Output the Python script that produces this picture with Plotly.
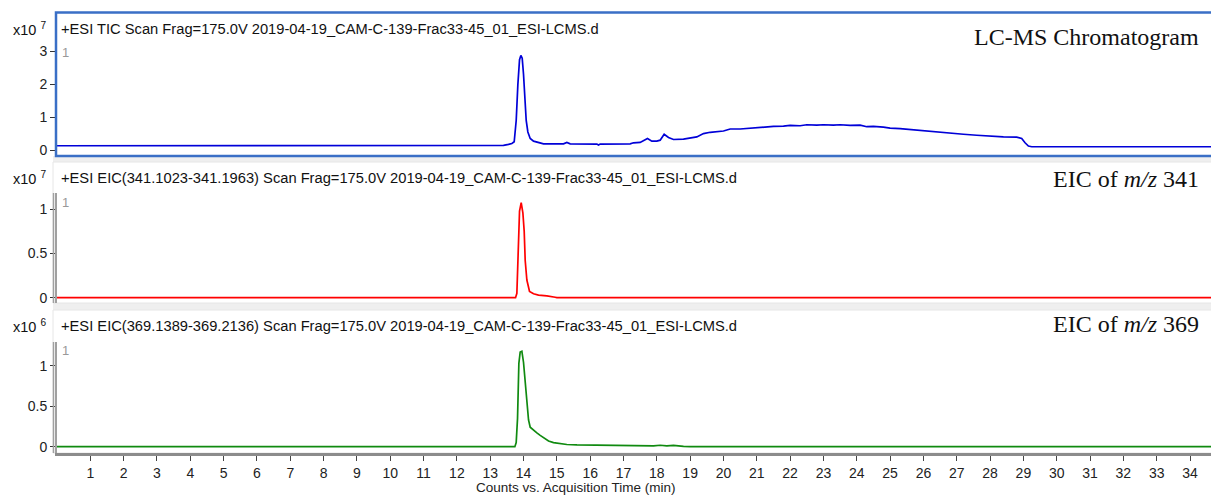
import plotly.graph_objects as go

# ---------------- data ----------------
tic_time = [0.0, 8.3, 8.4, 8.6, 8.8, 9.0, 9.2, 9.3, 13.4, 13.55, 13.65, 13.72, 13.78, 13.83,
            13.88, 13.92, 13.96, 14.0, 14.04, 14.08, 14.13, 14.2, 14.3, 14.45, 14.6, 15.2,
            15.3, 15.4, 16.2, 16.25, 16.3, 17.2, 17.3, 17.5, 17.65, 17.72, 17.85, 18.0, 18.1,
            18.22, 18.35, 18.5, 18.8, 19.0, 19.2, 19.4, 19.6, 20.0, 20.2, 20.5, 20.8, 21.2,
            21.5, 21.8, 22.0, 22.3, 22.5, 22.8, 23.0, 23.3, 23.5, 23.8, 24.1, 24.3, 24.5,
            24.8, 25.0, 25.3, 25.6, 26.0, 26.4, 26.8, 27.2, 27.6, 28.0, 28.4, 28.8, 28.95,
            29.05, 29.15, 29.25, 34.87]
tic_counts_e7 = [0.13, 0.13, 0.145, 0.13, 0.145, 0.13, 0.14, 0.13, 0.14, 0.17, 0.2, 0.25, 0.9, 2.0,
                 2.75, 2.88, 2.8, 2.3, 1.4, 0.9, 0.55, 0.35, 0.27, 0.22, 0.19, 0.19,
                 0.23, 0.19, 0.18, 0.15, 0.18, 0.19, 0.22, 0.23, 0.3, 0.35, 0.27, 0.27, 0.3,
                 0.48, 0.38, 0.32, 0.33, 0.37, 0.4, 0.5, 0.54, 0.58, 0.64, 0.64, 0.67, 0.69,
                 0.72, 0.73, 0.75, 0.74, 0.77, 0.76, 0.77, 0.76, 0.77, 0.75, 0.76, 0.71, 0.72,
                 0.70, 0.67, 0.65, 0.62, 0.58, 0.55, 0.52, 0.48, 0.45, 0.42, 0.40, 0.39, 0.35,
                 0.22, 0.12, 0.10, 0.10]

eic341_time = [0.0, 13.76, 13.8, 13.84, 13.88, 13.93, 13.98, 14.02, 14.05, 14.1, 14.18, 14.3,
               14.45, 14.7, 14.85, 14.95, 15.0, 34.87]
eic341_counts_e7 = [0.0, 0.0, 0.05, 0.55, 0.98, 1.075, 0.96, 0.75, 0.42, 0.2, 0.07, 0.045,
                    0.03, 0.02, 0.015, 0.005, 0.0, 0.0]

eic369_time = [0.0, 13.74, 13.78, 13.82, 13.86, 13.9, 13.95, 14.0, 14.08, 14.15, 14.2, 14.3,
               14.4, 14.5, 14.6, 14.75, 14.9, 15.1, 15.3, 15.6, 16.0, 16.8, 17.5, 17.7, 17.9,
               18.1, 18.3, 18.5, 18.7, 18.8, 19.0, 34.87]
eic369_counts_e6 = [0.0, 0.0, 0.05, 0.35, 1.03, 1.17, 1.18, 1.04, 0.66, 0.33, 0.24, 0.2,
                    0.17, 0.14, 0.11, 0.07, 0.05, 0.035, 0.027, 0.022, 0.02, 0.015, 0.012, 0.018,
                    0.01, 0.018, 0.01, 0.016, 0.005, 0.003, 0.0, 0.0]

x_ticks = list(range(1, 35))
tic_ticks = [0, 1, 2, 3]
eic341_ticks = [0, 0.5, 1]
eic369_ticks = [0, 0.5, 1]

headers = [
    "+ESI TIC Scan Frag=175.0V 2019-04-19_CAM-C-139-Frac33-45_01_ESI-LCMS.d",
    "+ESI EIC(341.1023-341.1963) Scan Frag=175.0V 2019-04-19_CAM-C-139-Frac33-45_01_ESI-LCMS.d",
    "+ESI EIC(369.1389-369.2136) Scan Frag=175.0V 2019-04-19_CAM-C-139-Frac33-45_01_ESI-LCMS.d",
]
labels = ["LC-MS Chromatogram", "EIC of <i>m/z</i> 341", "EIC of <i>m/z</i> 369"]
exponents = ["x10 <sup>7</sup>", "x10 <sup>7</sup>", "x10 <sup>6</sup>"]
x_title = "Counts vs. Acquisition Time (min)"

# ---------------- geometry helpers ----------------
# The page body adds an 8 px offset, so the figure is 8 px smaller than the window
OFF = 8
W, H = 1219 - OFF, 495 - OFF
ML, MR, MT, MB = 57 - OFF, 0, 0, 40
PW, PH = W - ML - MR, H - MT - MB
PLOT_BOTTOM_PAGE = OFF + MT + PH  # page y of the plot-area bottom


def px(x):
    """page x pixel -> paper x"""
    return (x - OFF - ML) / PW


def py(y):
    """page y pixel -> paper y"""
    return (PLOT_BOTTOM_PAGE - y) / PH


SANS = "Liberation Sans, Arial, sans-serif"
SERIF = "Liberation Serif, Times New Roman, serif"

fig = go.Figure()
fig.add_trace(go.Scatter(x=tic_time, y=tic_counts_e7, mode="lines", yaxis="y",
                         line=dict(color="#0000d8", width=1.7), hoverinfo="skip"))
fig.add_trace(go.Scatter(x=eic341_time, y=eic341_counts_e7, mode="lines", yaxis="y2",
                         line=dict(color="#ff0000", width=1.7), hoverinfo="skip"))
fig.add_trace(go.Scatter(x=eic369_time, y=eic369_counts_e6, mode="lines", yaxis="y3",
                         line=dict(color="#108a10", width=1.7), hoverinfo="skip"))

yax_common = dict(showgrid=False, zeroline=False, showline=True, linecolor="#a0a0a0",
                  linewidth=2, ticks="outside", ticklen=5, tickcolor="#333",
                  tickfont=dict(family=SANS, size=14, color="#222"), anchor="x")

fig.update_layout(
    width=W, height=H, showlegend=False,
    margin=dict(l=ML, r=MR, t=MT, b=MB, autoexpand=False),
    paper_bgcolor="white", plot_bgcolor="white",
    xaxis=dict(range=[0, 34.87], tickvals=x_ticks, ticks="outside", ticklen=5,
               tickcolor="#444", showline=True, linecolor="#8c8c8c", linewidth=3,
               showgrid=False, zeroline=False, anchor="y3",
               tickfont=dict(family=SANS, size=14, color="#222")),
    yaxis=dict(domain=[py(155), py(45)], range=[-0.152, 3.2], tickvals=tic_ticks, **yax_common),
    yaxis2=dict(domain=[py(303), py(193)], range=[-0.06, 1.184], tickvals=eic341_ticks, **yax_common),
    yaxis3=dict(domain=[py(453), py(342)], range=[-0.078, 1.293], tickvals=eic369_ticks, **yax_common),
)

shapes = []
# light gray bands between panels
for y0, y1 in [(156, 162), (303, 310)]:
    shapes.append(dict(type="rect", xref="paper", yref="paper", x0=px(53), x1=px(1219),
                       y0=py(y1), y1=py(y0), fillcolor="#efefef", line=dict(width=0),
                       layer="below"))
# faint borders of panels 2 and 3
for y0, y1 in [(162, 303), (310, 453)]:
    shapes.append(dict(type="rect", xref="paper", yref="paper", x0=px(53), x1=px(1218.5),
                       y0=py(y1), y1=py(y0), line=dict(color="#e6e6e6", width=1),
                       fillcolor="rgba(0,0,0,0)", layer="below"))
# second gray line of the double left bar on panels 2 and 3
for y0, y1 in [(193, 303), (342, 453)]:
    shapes.append(dict(type="line", xref="paper", yref="paper", x0=px(53.5), x1=px(53.5),
                       y0=py(y1), y1=py(y0), line=dict(color="#a0a0a0", width=1.5)))
# selected panel blue border
shapes.append(dict(type="rect", xref="paper", yref="paper", x0=px(56), x1=px(1217),
                   y0=py(156), y1=py(12.5), line=dict(color="#3a6fc6", width=2.5),
                   fillcolor="rgba(0,0,0,0)"))
fig.update_layout(shapes=shapes)

ann = []
header_y = [29, 178, 326]
label_y = [37, 179, 324]
one_y = [53, 202, 350]
for i in range(3):
    ann.append(dict(text=headers[i], xref="paper", yref="paper", x=px(59), y=py(header_y[i]),
                    xanchor="left", yanchor="middle", showarrow=False,
                    font=dict(family=SANS, size=14.7, color="#111")))
    ann.append(dict(text=exponents[i], xref="paper", yref="paper", x=px(48), y=py(header_y[i]),
                    xanchor="right", yanchor="middle", showarrow=False,
                    font=dict(family=SANS, size=14.5, color="#111")))
    ann.append(dict(text=labels[i], xref="paper", yref="paper", x=px(1201), y=py(label_y[i]),
                    xanchor="right", yanchor="middle", showarrow=False,
                    font=dict(family=SERIF, size=24, color="#111")))
    ann.append(dict(text="1", xref="paper", yref="paper", x=px(60), y=py(one_y[i]),
                    xanchor="left", yanchor="middle", showarrow=False,
                    font=dict(family=SANS, size=13, color="#999")))
    ann.append(dict(text="1", xref="paper", yref="paper", x=px(1212), y=py(one_y[i]),
                    xanchor="left", yanchor="middle", showarrow=False,
                    font=dict(family=SANS, size=13, color="#999")))
ann.append(dict(text=x_title, xref="paper", yref="paper", x=px(576), y=py(487),
                xanchor="center", yanchor="middle", showarrow=False,
                font=dict(family=SANS, size=13.5, color="#222")))
fig.update_layout(annotations=ann)

fig.write_html("out.html")
